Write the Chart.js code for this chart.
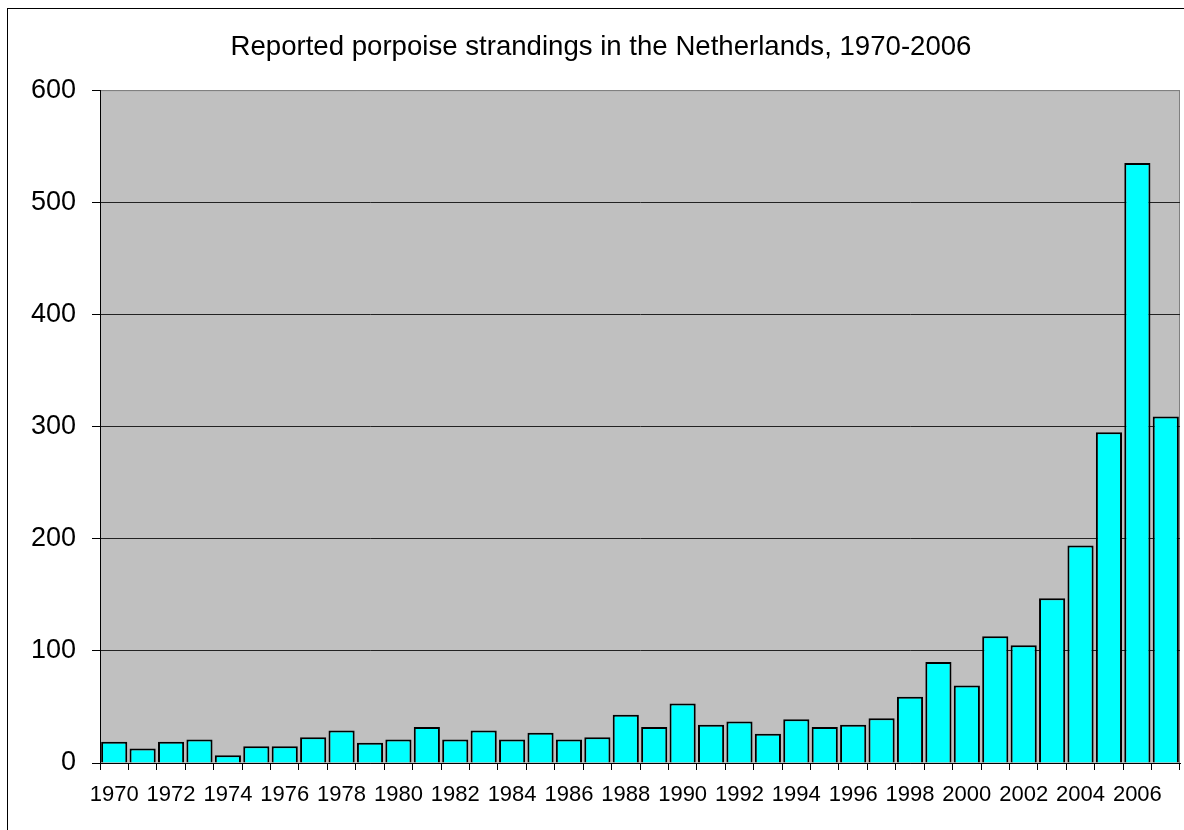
<!DOCTYPE html>
<html>
<head>
<meta charset="utf-8">
<script src="https://cdn.jsdelivr.net/npm/chart.js@4.4.0/dist/chart.umd.min.js"></script>
<style>
  html, body { margin: 0; padding: 0; background: #fff; }
  canvas { display: block; }
</style>
</head>
<body>
<canvas id="strandings-chart" width="1184" height="830"></canvas>
<script>
  const years = [];
  for (let y = 1970; y <= 2007; y++) years.push(String(y));

  const strandings = [
    19, 13, 19, 21, 7, 15, 15, 23, 29, 18,
    21, 32, 21, 29, 21, 27, 21, 23, 43, 32,
    53, 34, 37, 26, 39, 32, 34, 40, 59, 90,
    69, 113, 105, 147, 194, 295, 535, 309
  ];

  const yTicks = [0, 100, 200, 300, 400, 500, 600];

  // grey plot area plus the outer frame round the whole picture
  const plotBackground = {
    id: 'plotBackground',
    beforeDraw(chart) {
      const { ctx, chartArea: a } = chart;
      ctx.save();
      ctx.fillStyle = '#ffffff';
      ctx.fillRect(0, 0, chart.width, chart.height);
      ctx.strokeStyle = '#000000';
      ctx.lineWidth = 1;
      ctx.strokeRect(7.5, 8.5, 1400, 1000);
      ctx.fillStyle = '#C0C0C0';
      ctx.fillRect(a.left, a.top, a.right - a.left, a.bottom - a.top);
      ctx.strokeStyle = '#808080';
      ctx.beginPath();
      ctx.moveTo(a.left, a.top + 0.5);
      ctx.lineTo(a.right - 0.5, a.top + 0.5);
      ctx.lineTo(a.right - 0.5, a.bottom);
      ctx.stroke();
      ctx.restore();
    }
  };

  const ctx = document.getElementById('strandings-chart').getContext('2d');
  const barChart = new Chart(ctx, {
    type: 'bar',
    data: {
      labels: years,
      datasets: [{
        label: 'Strandings',
        data: strandings,
        backgroundColor: '#00FFFF',
        borderColor: '#000000',
        borderWidth: 2,
        borderSkipped: 'bottom',
        barPercentage: 0.92,
        categoryPercentage: 1
      }]
    },
    options: {
      responsive: false,
      animation: false,
      layout: { padding: { left: 22, right: 4, top: 0, bottom: 0 } },
      plugins: {
        legend: { display: false },
        tooltip: { enabled: false },
        title: {
          display: true,
          text: 'Reported porpoise strandings in the Netherlands, 1970-2006',
          color: '#000000',
          font: { family: '"Liberation Sans", Arial, sans-serif', size: 27.6, weight: 'normal' },
          padding: { top: 31, bottom: 26 }
        }
      },
      scales: {
        x: {
          grid: {
            offset: true,
            drawOnChartArea: false,
            drawTicks: true,
            tickLength: 7,
            color: '#000000'
          },
          border: { color: '#000000', width: 1 },
          ticks: {
            autoSkip: false,
            maxRotation: 0,
            padding: 12,
            color: '#000000',
            font: { family: '"Liberation Sans", Arial, sans-serif', size: 22 },
            callback: function (value, index) {
              return index % 2 === 0 ? this.getLabelForValue(value) : '';
            }
          },
          afterFit: function (scale) { scale.height = 67; }
        },
        y: {
          min: 0,
          max: 600,
          afterBuildTicks: function (scale) {
            scale.ticks = yTicks.map(v => ({ value: v }));
          },
          grid: {
            color: ctx => ctx.tick && ctx.tick.value === 600 ? '#808080' : '#222222',
            tickColor: '#000000',
            tickLength: 8,
            lineWidth: 1
          },
          border: { color: '#000000', width: 1 },
          ticks: {
            padding: 16,
            color: '#000000',
            font: { family: '"Liberation Sans", Arial, sans-serif', size: 27 }
          },
          afterFit: function (scale) { scale.width = 78; }
        }
      }
    },
    plugins: [plotBackground]
  });
</script>
</body>
</html>
